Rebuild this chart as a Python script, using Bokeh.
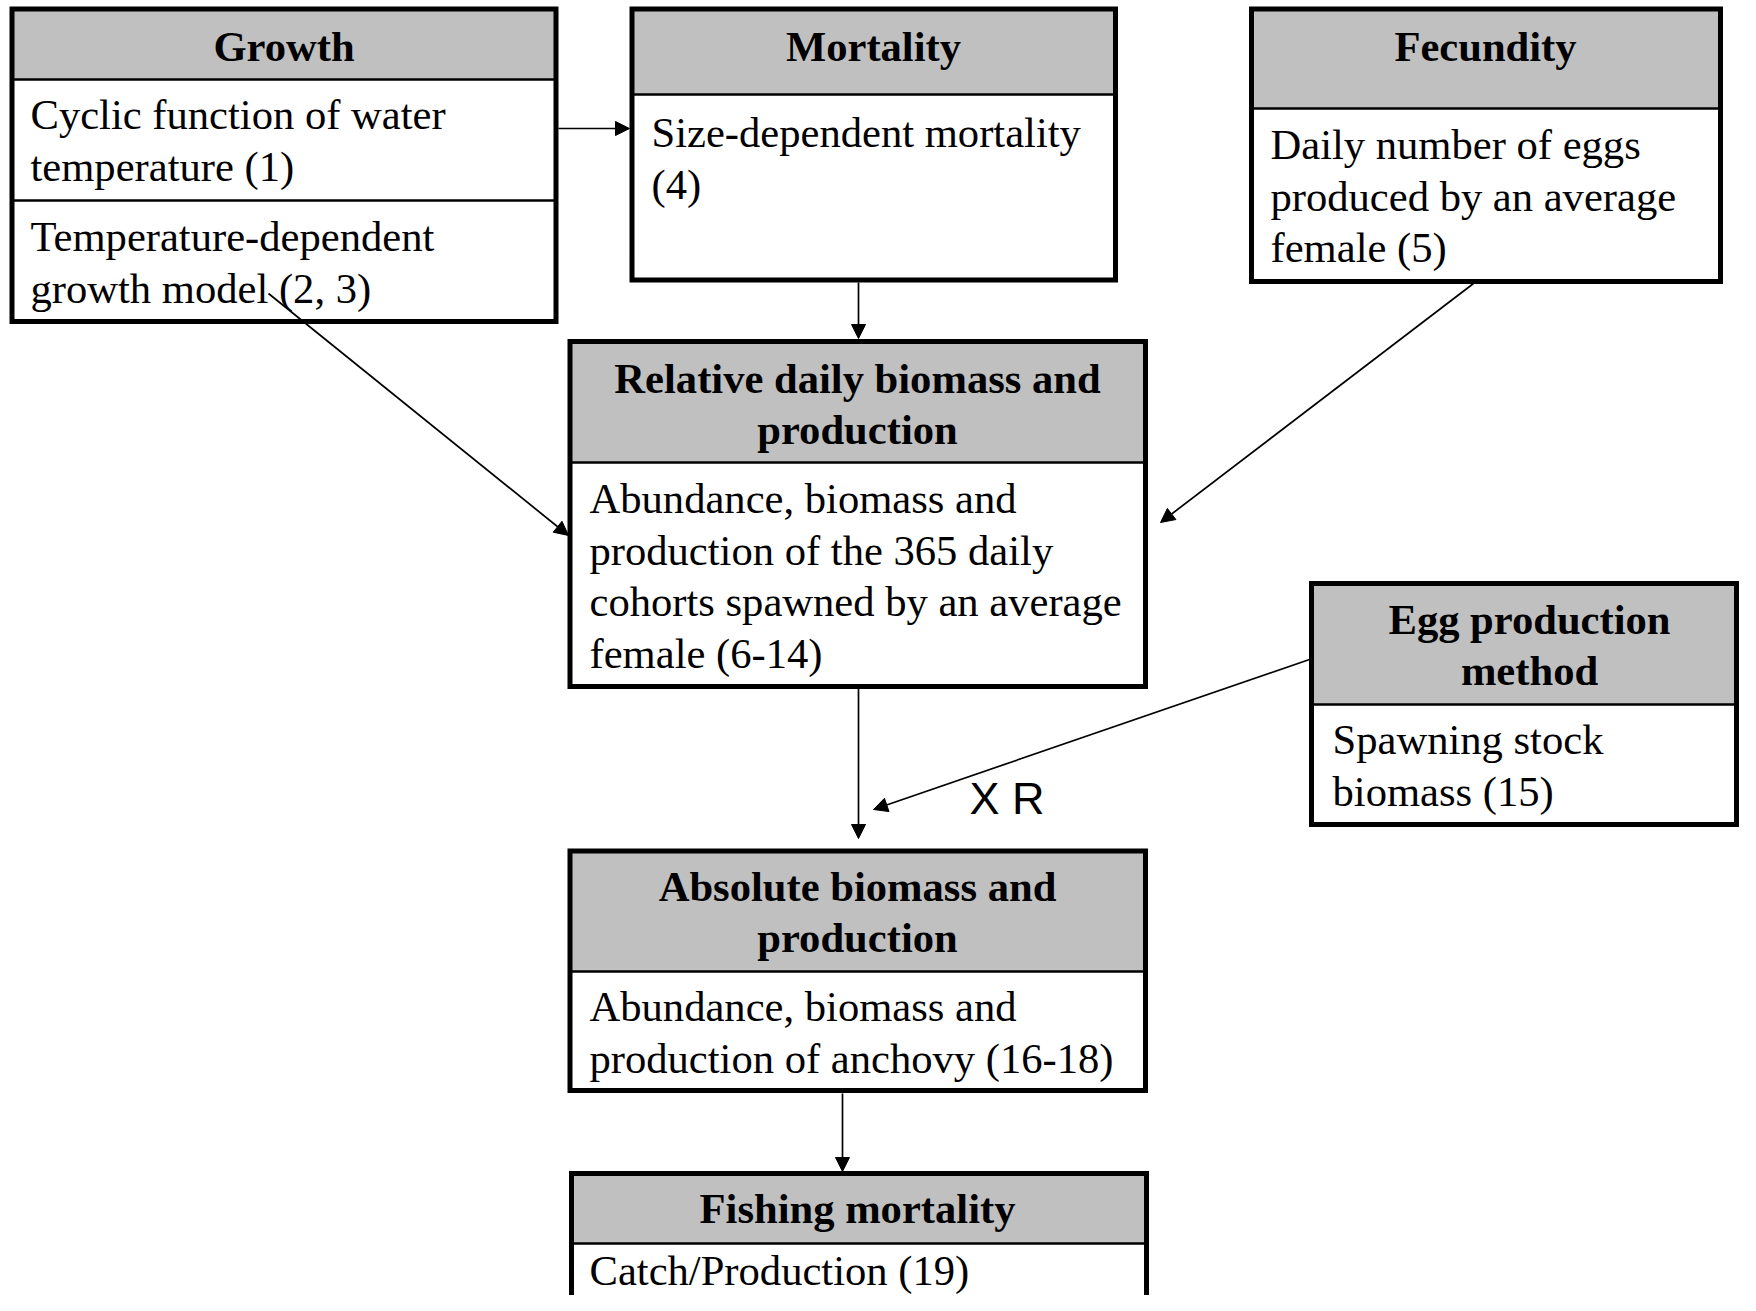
from bokeh.plotting import figure
from bokeh.models import Range1d, Arrow, NormalHead, ColumnDataSource
from bokeh.core.properties import value
from bokeh.embed import file_html
from bokeh.resources import INLINE

# ---- boxes (diagram units = reference pixels) ----
box_names = ["Growth", "Mortality", "Fecundity", "Relative", "Egg", "Absolute", "Fishing"]
box_left = [11.5, 631.5, 1251, 569.5, 1311, 569.5, 571]
box_right = [555.5, 1115, 1720, 1145, 1736, 1145, 1146]
box_top = [8.5, 8.5, 8.5, 341, 583, 850.5, 1173]
box_header_bottom = [79, 94, 108, 462, 704, 971, 1243]
box_bottom = [321, 279.5, 281, 686, 824, 1090, 1340]

# extra internal dividers (Growth box)
divider_y = [200]
divider_x0 = [11.5]
divider_x1 = [555.5]

# ---- header texts ----
header_text = ["Growth", "Mortality", "Fecundity",
               "Relative daily biomass and", "production",
               "Egg production", "method",
               "Absolute biomass and", "production",
               "Fishing mortality"]
header_x = [283.5, 873, 1485, 857, 857, 1529, 1529, 857, 857, 857]
header_y = [59, 59, 59, 391, 441.5, 632, 682.5, 899, 949.5, 1221]

# ---- body texts ----
body_text = ["Cyclic function of water", "temperature (1)",
             "Temperature-dependent", "growth model (2, 3)",
             "Size-dependent mortality", "(4)",
             "Daily number of eggs", "produced by an average", "female (5)",
             "Abundance, biomass and", "production of the 365 daily",
             "cohorts spawned by an average", "female (6-14)",
             "Spawning stock", "biomass (15)",
             "Abundance, biomass and", "production of anchovy (16-18)",
             "Catch/Production (19)"]
body_x = [30, 30, 30, 30, 651, 651, 1270, 1270, 1270,
          589, 589, 589, 589, 1332, 1332, 589, 589, 589]
body_y = [127, 178.5, 249, 300.5, 145, 196.5, 157, 208.5, 260,
          511, 562.5, 614, 665.5, 752, 803.5, 1019, 1070.5, 1283]

# ---- arrows ----
arrow_x0 = [558, 858, 268, 1473, 858, 1309, 842]
arrow_y0 = [128, 282, 293, 283, 688, 659, 1093]
arrow_x1 = [629, 858, 568, 1160, 858, 873, 842]
arrow_y1 = [128, 338, 535, 522, 838, 809, 1171]

# ---- label ----
label_text = ["X R"]
label_x = [969]
label_y = [811]

W, H = 1740, 1295
p = figure(width=W, height=H,
           x_range=Range1d(0, W), y_range=Range1d(H, 0),
           output_backend="svg", toolbar_location=None,
           x_axis_location=None, y_axis_location=None, min_border=0)
p.grid.visible = False
p.outline_line_color = None
p.background_fill_color = "white"
p.border_fill_color = "white"

boxes = ColumnDataSource(dict(left=box_left, right=box_right, top=box_top,
                              hb=box_header_bottom, bottom=box_bottom))
# body (white)
p.quad(left="left", right="right", top="top", bottom="bottom", source=boxes,
       fill_color="white", line_color=None)
# header (grey)
p.quad(left="left", right="right", top="top", bottom="hb", source=boxes,
       fill_color="#c0c0c0", line_color=None)
# header divider
p.segment(x0="left", x1="right", y0="hb", y1="hb", source=boxes,
          line_color="black", line_width=2.5)
p.segment(x0=divider_x0, x1=divider_x1, y0=divider_y, y1=divider_y,
          line_color="black", line_width=2.5)
# outer border
p.quad(left="left", right="right", top="top", bottom="bottom", source=boxes,
       fill_color=None, line_color="black", line_width=5, line_join="miter")

TEXT_SHIFT = -13  # compensate renderer's baseline placement

p.text(x=header_x, y=header_y, text=header_text,
       text_font=value("Liberation Serif"), text_font_style="bold",
       text_font_size="42.6px", text_align="center", text_baseline="alphabetic",
       text_color="black", y_offset=TEXT_SHIFT)
p.text(x=body_x, y=body_y, text=body_text,
       text_font=value("Liberation Serif"),
       text_font_size="42.6px", text_align="left", text_baseline="alphabetic",
       text_color="black", y_offset=TEXT_SHIFT)
p.text(x=label_x, y=label_y, text=label_text,
       text_font=value("Liberation Sans"),
       text_font_size="45px", text_align="left", text_baseline="alphabetic",
       text_color="black", y_offset=TEXT_SHIFT)

# arrows
for x0, y0, x1, y1 in zip(arrow_x0, arrow_y0, arrow_x1, arrow_y1):
    p.add_layout(Arrow(x_start=x0, y_start=y0, x_end=x1, y_end=y1,
                       line_color="black", line_width=1.7,
                       end=NormalHead(size=14, fill_color="black",
                                      line_color="black", line_width=1)))

open("out.html", "w").write(file_html(p, INLINE))
